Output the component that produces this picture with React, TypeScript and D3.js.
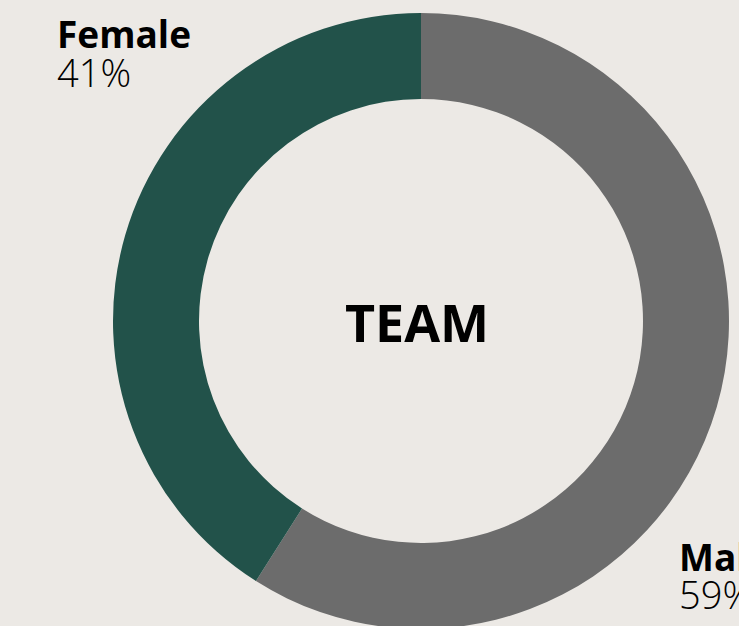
import React, { useEffect } from "react";
import * as d3 from "d3";

const categories = ["Male", "Female"];
const values = [59, 41];
const colors = ["#6c6c6c", "#22524a"];
const centerLabel = "TEAM";

const W = 739;
const H = 626;

export default function App() {
  useEffect(() => {
    document.body.style.margin = "0";
    document.body.style.background = "#ece9e5";
  }, []);

  const cx = 421;
  const cy = 321;
  const outerR = 308;
  const innerR = 222;

  const pie = d3.pie<number>().sort(null).value((d) => d);
  const arcs = pie(values);
  const arc = d3.arc<d3.PieArcDatum<number>>().innerRadius(innerR).outerRadius(outerR);

  const labelPos = [
    { x: 679, y1: 571, y2: 609 },
    { x: 57, y1: 48, y2: 87 },
  ];

  const font = "'Open Sans', 'Noto Sans', sans-serif";

  return (
    <svg width={W} height={H} style={{ display: "block", background: "#ece9e5" }}>
      <rect width={W} height={H} fill="#ece9e5" />
      <g transform={`translate(${cx},${cy})`}>
        {arcs.map((a, i) => (
          <path key={categories[i]} d={arc(a) || ""} fill={colors[i]} />
        ))}
        <text
          x={-4}
          y={21}
          textAnchor="middle"
          fontFamily={font}
          fontWeight={700}
          fontSize={52}
          fill="#000"
        >
          {centerLabel}
        </text>
      </g>
      {categories.map((c, i) => (
        <g key={c}>
          <text x={labelPos[i].x} y={labelPos[i].y1} fontFamily={font} fontWeight={700} fontSize={37} fill="#000">
            {c}
          </text>
          <text x={labelPos[i].x} y={labelPos[i].y2} fontFamily={font} fontWeight={300} fontSize={38} fill="#000">
            {values[i]}%
          </text>
        </g>
      ))}
    </svg>
  );
}
